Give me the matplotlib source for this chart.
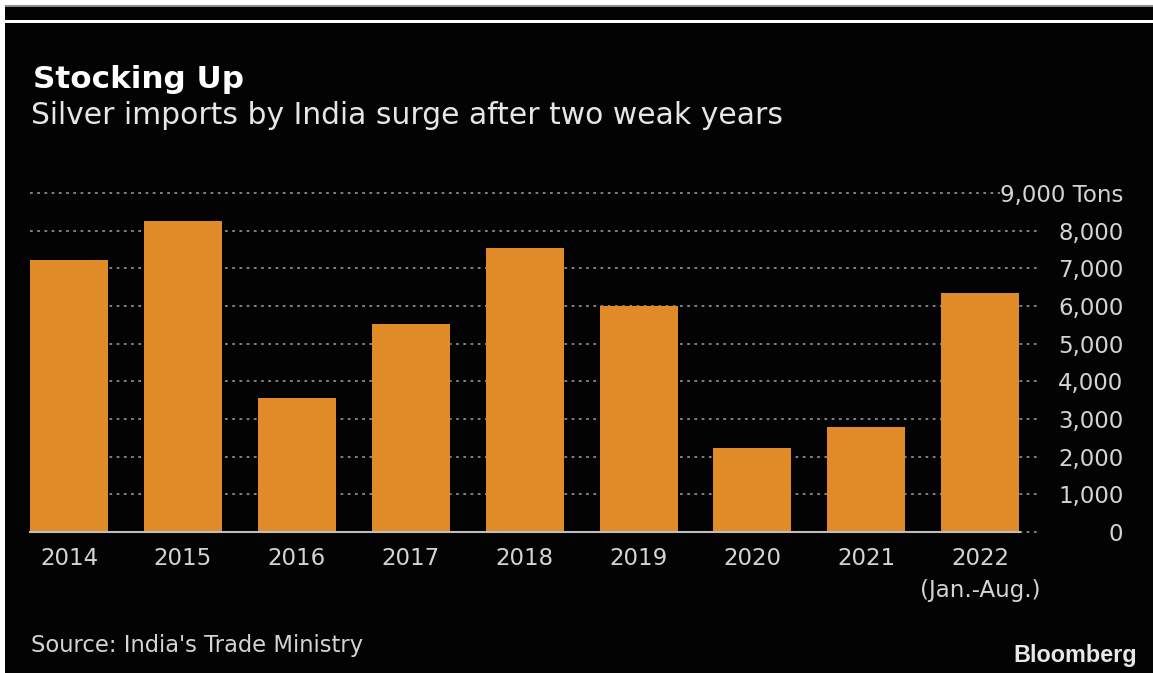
import matplotlib
matplotlib.use("Agg")
import matplotlib.pyplot as plt
from matplotlib.patches import Rectangle

# Silver imports by India, tons per year
years = ["2014", "2015", "2016", "2017", "2018", "2019", "2020", "2021", "2022\n(Jan.-Aug.)"]
imports_tons = [7210, 8260, 3550, 5510, 7540, 5990, 2240, 2790, 6350]
y_ticks = [0, 1000, 2000, 3000, 4000, 5000, 6000, 7000, 8000, 9000]
y_labels = ["0", "1,000", "2,000", "3,000", "4,000", "5,000", "6,000", "7,000", "8,000", "9,000 Tons"]

BAR = "#e08b28"
GRID = "#8a8a8a"
TICK = "#d4d4d4"

W, H = 1153, 673
fig = plt.figure(figsize=(W / 100, H / 100), dpi=100)
fig.patch.set_facecolor("#030303")

# page edges: white strip on top and left, plus a thin rule
fig.add_artist(Rectangle((0, 1 - 5 / H), 1, 5 / H, transform=fig.transFigure, color="white", lw=0))
fig.add_artist(Rectangle((0, 1 - 7 / H), 1, 2 / H, transform=fig.transFigure, color="#8a8a8a", lw=0))
fig.add_artist(Rectangle((0, 1 - 23 / H), 1, 3 / H, transform=fig.transFigure, color="white", lw=0))
fig.add_artist(Rectangle((0, 0), 5 / W, 1, transform=fig.transFigure, color="white", lw=0))

ax = fig.add_axes([30 / W, 141 / H, 1010 / W, 339 / H])
ax.set_facecolor("none")
x = range(len(years))
ax.bar(x, imports_tons, width=0.685, color=BAR, zorder=3)
ax.set_xlim(-0.343, 8.525)
ax.set_ylim(0, 9000)

# dotted gridlines; the top one stops short of its label
for v in y_ticks:
    right = 0.96 if v == 9000 else 1.0
    ax.plot([0, right], [v, v], transform=ax.get_yaxis_transform(),
            color=GRID, lw=1.3, ls=(0, (1.5, 2.5)), zorder=1, clip_on=False)
ax.plot([0, 0.98], [0, 0], transform=ax.get_yaxis_transform(),
        color="#bdbdbd", lw=1.5, zorder=4, clip_on=False)

for s in ax.spines.values():
    s.set_visible(False)

ax.set_xticks(list(x))
ax.set_xticklabels(years, fontsize=16.5, color=TICK, linespacing=1.5)
ax.tick_params(axis="x", length=0, pad=11)

ax.yaxis.tick_right()
ax.set_yticks(y_ticks)
ax.set_yticklabels(y_labels, fontsize=16.5, color=TICK, ha="right")
ax.tick_params(axis="y", length=0, pad=60)

fig.text(33 / W, 1 - 88 / H, "Stocking Up", fontsize=22.3, fontweight="bold", color="white")
fig.text(31 / W, 1 - 124 / H, "Silver imports by India surge after two weak years",
         fontsize=21.4, color="#e6e6e6")
fig.text(31 / W, 1 - 652 / H, "Source: India's Trade Ministry", fontsize=16.3, color=TICK)
fig.text(1137 / W, 1 - 662 / H, "Bloomberg", fontsize=16.8, fontweight="bold",
         color="#e8e8e8", ha="right", family=["Liberation Sans", "DejaVu Sans"])

fig.savefig("out.png", dpi=100, facecolor=fig.get_facecolor())
